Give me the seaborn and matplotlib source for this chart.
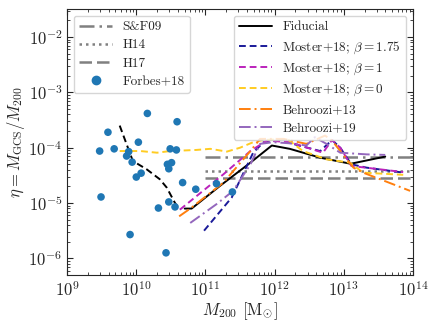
import numpy as np
import pandas as pd
import matplotlib
matplotlib.use("Agg")
import matplotlib.pyplot as plt
import seaborn as sns

# Forbes+18 galaxies (log10 M200, log10 eta)
forbes_logm = [9.47, 9.59, 9.68, 10.16, 10.59, 9.49, 10.03, 9.89, 9.86, 9.94, 10.07, 10.00, 10.49,
               10.58, 10.45, 10.51, 10.47, 10.47, 10.32, 10.56, 9.91, 10.43, 10.67, 10.86, 11.16, 11.39]
forbes_logeta = [-4.06, -3.72, -4.02, -3.38, -3.53, -4.89, -3.90, -4.07, -4.15, -4.26, -4.46, -4.53, -4.02,
                 -4.04, -4.30, -4.27, -4.38, -4.98, -5.09, -5.07, -5.57, -5.90, -4.63, -4.75, -4.65, -4.80]

# black dashed trend through the Forbes points
trend_logm = [9.76, 9.95, 10.15, 10.34, 10.44, 10.56, 10.63]
trend_logeta = [-3.60, -4.24, -4.39, -4.57, -4.72, -5.00, -5.12]

# simulation curves
fid_logm = [10.70, 10.80, 11.21, 11.65, 11.96, 12.22, 12.66, 13.10, 13.60]
fid_logeta = [-5.10, -5.10, -4.69, -4.27, -3.96, -4.02, -4.18, -4.29, -4.16]

m175_logm = [10.98, 11.38, 11.69, 11.84, 12.08, 12.66, 12.83, 12.95, 13.11, 13.33, 13.86]
m175_logeta = [-5.50, -4.90, -4.09, -3.90, -3.87, -4.06, -3.86, -4.00, -4.30, -4.36, -4.45]

m1_logm = [10.63, 11.26, 11.65, 11.89, 12.22, 12.70, 12.83, 12.95, 13.11, 13.86]
m1_logeta = [-5.12, -4.48, -4.06, -3.87, -3.90, -4.09, -3.86, -4.00, -4.33, -4.44]

m0_logm = [9.76, 10.06, 10.30, 10.49, 10.87, 11.07, 11.31, 11.50, 11.69, 11.84, 12.18, 12.41, 12.75,
           13.09, 13.28, 13.86]
m0_logeta = [-4.06, -4.06, -4.09, -4.06, -4.04, -4.02, -4.07, -4.00, -3.90, -3.86, -3.84, -4.06, -4.21,
             -4.27, -4.45, -4.49]

b13_logm = [10.62, 10.78, 11.26, 11.65, 11.79, 12.13, 12.46, 12.73, 12.83, 13.14, 13.28, 13.96]
b13_logeta = [-5.24, -5.10, -4.63, -4.06, -3.84, -3.84, -3.93, -3.78, -3.87, -4.36, -4.45, -4.78]

b19_logm = [10.78, 11.16, 11.40, 11.65, 11.79, 11.98, 12.22, 12.46, 12.58, 12.75, 12.95, 13.33, 13.60]
b19_logeta = [-5.36, -5.02, -4.78, -4.30, -3.93, -3.90, -3.92, -3.96, -3.81, -3.93, -4.09, -4.12, -4.13]

# literature constant ratios, drawn from 1e11 to 1e14
ref_names = ["S&F09", "H14", "H17"]
ref_eta = [6.9e-5, 3.8e-5, 2.8e-5]
ref_mrange = [1e11, 1e14]

sns.set_style("ticks")
plt.rcParams["font.family"] = ["cmr10", "DejaVu Serif"]
plt.rcParams["mathtext.fontset"] = "cm"
plt.rcParams["axes.formatter.use_mathtext"] = True
plt.rcParams["axes.unicode_minus"] = False

fig = plt.figure(figsize=(4.36, 3.27), dpi=100)
ax = fig.add_axes([0.154, 0.159, 0.793, 0.813])


def draw(logm, logeta, **kw):
    df = pd.DataFrame({"m": 10 ** np.array(logm), "eta": 10 ** np.array(logeta)})
    return sns.lineplot(data=df, x="m", y="eta", sort=False, ax=ax, **kw)


# reference lines
ref_styles = [dict(ls=(0, (6, 2, 1, 2))), dict(ls=(0, (1, 1.6))), dict(ls=(0, (5, 2)))]
ref_handles = []
for name, eta, st in zip(ref_names, ref_eta, ref_styles):
    sns.lineplot(x=ref_mrange, y=[eta, eta], color="grey", lw=1.8, ax=ax, **st)
    ref_handles.append(plt.Line2D([], [], color="grey", lw=1.8, label=name, **st))

draw(trend_logm, trend_logeta, color="black", ls=(0, (3.5, 2)), lw=1.4)

fdf = pd.DataFrame({"m": 10 ** np.array(forbes_logm), "eta": 10 ** np.array(forbes_logeta)})
sns.scatterplot(data=fdf, x="m", y="eta", color="#1f77b4", s=30, edgecolor="none", ax=ax, zorder=3)
ref_handles.append(plt.Line2D([], [], color="#1f77b4", marker="o", ls="none", ms=6, label="Forbes+18"))

curves = [
    (fid_logm, fid_logeta, "black", "-", "Fiducial"),
    (m175_logm, m175_logeta, "#1a1a99", (0, (3.5, 2)), r"Moster+18; $\beta = 1.75$"),
    (m1_logm, m1_logeta, "#bb22bb", (0, (3.5, 2)), r"Moster+18; $\beta = 1$"),
    (m0_logm, m0_logeta, "#ffcc22", (0, (3.5, 2)), r"Moster+18; $\beta = 0$"),
    (b13_logm, b13_logeta, "#ff7f0e", (0, (6, 2, 1, 2)), "Behroozi+13"),
    (b19_logm, b19_logeta, "#9467bd", (0, (6, 2, 1, 2)), "Behroozi+19"),
]
sim_handles = []
for lm, le, c, ls, lab in curves:
    draw(lm, le, color=c, ls=ls, lw=1.4)
    sim_handles.append(plt.Line2D([], [], color=c, ls=ls, lw=1.4, label=lab))

ax.set_xscale("log")
ax.set_yscale("log")
ax.set_xlim(1e9, 1e14)
ax.set_ylim(5e-7, 3.2e-2)
ax.set_xlabel(r"$M_{200}$ [M$_{\odot}$]", fontsize=12, labelpad=1)
ax.set_ylabel(r"$\eta = M_{\rm GCS}/M_{200}$", fontsize=12, labelpad=1)
ax.tick_params(which="both", direction="in", top=True, right=True, labelsize=12)
ax.tick_params(which="major", length=4)
ax.tick_params(which="minor", length=2)
ax.xaxis.set_major_locator(matplotlib.ticker.LogLocator(base=10, numticks=10))
ax.yaxis.set_major_locator(matplotlib.ticker.LogLocator(base=10, numticks=10))
ax.xaxis.set_minor_locator(matplotlib.ticker.LogLocator(base=10, subs=np.arange(2, 10), numticks=20))
ax.yaxis.set_minor_locator(matplotlib.ticker.LogLocator(base=10, subs=np.arange(2, 10), numticks=20))
ax.xaxis.set_minor_formatter(matplotlib.ticker.NullFormatter())
ax.yaxis.set_minor_formatter(matplotlib.ticker.NullFormatter())

leg1 = ax.legend(handles=ref_handles, loc="upper left", fontsize=9.5, handlelength=2.5,
                 borderaxespad=0.5, labelspacing=0.45)
ax.add_artist(leg1)
ax.legend(handles=sim_handles, loc="upper right", fontsize=9.5, handlelength=2.5,
          borderaxespad=0.5, labelspacing=0.45)

fig.savefig("out.png", dpi=100)
